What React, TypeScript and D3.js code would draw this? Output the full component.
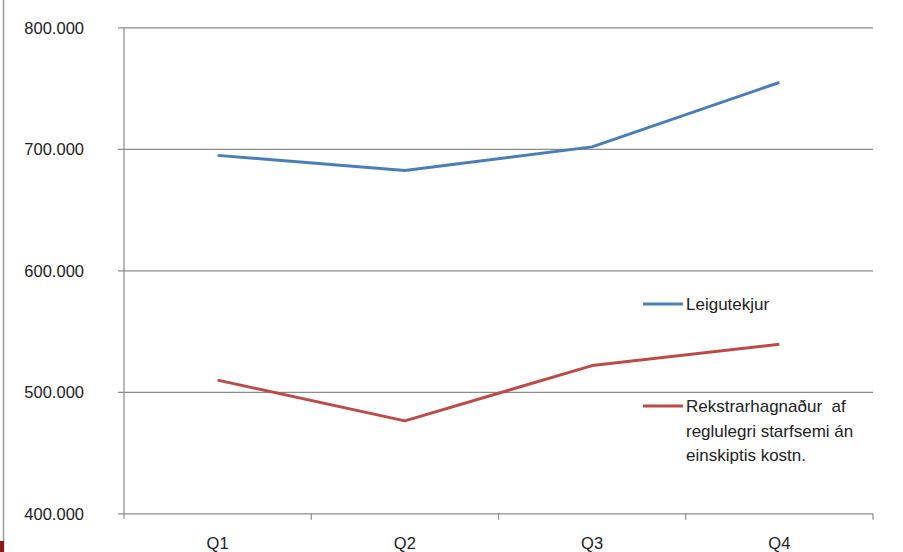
import React from "react";
import * as d3 from "d3";

const categories = ["Q1", "Q2", "Q3", "Q4"];
const leigutekjur = [695, 682.5, 702, 755];
const rekstrarhagnadur = [510, 476.5, 522, 539.5];
const yTicks = [400, 500, 600, 700, 800];
const seriesNames = ["Leigutekjur", "Rekstrarhagnaður  af|reglulegri starfsemi án|einskiptis kostn."];

const W = 903;
const H = 552;
const FONT = "'Liberation Sans', Arial, sans-serif";

export default function App() {
  const x = d3.scaleBand<string>().domain(categories).range([124, 873]);
  const y = d3.scaleLinear().domain([400, 800]).range([513.8, 27.8]);
  const line = d3
    .line<number>()
    .x((_, i) => (x(categories[i]) as number) + x.bandwidth() / 2)
    .y((d) => y(d));
  const tickLabel = (v: number) => `${v}.000`;
  const gridColor = "#8c8c8c";
  const series = [
    { name: seriesNames[0], values: leigutekjur, color: "#4a7ebb", ly: 304 },
    { name: seriesNames[1], values: rekstrarhagnadur, color: "#be4b48", ly: 406 },
  ];
  return (
    <svg
      width={W}
      height={H}
      style={{ position: "absolute", left: 0, top: 0, background: "#fff" }}
      fontFamily={FONT}
    >
      <rect x={0} y={0} width={W} height={H} fill="#fff" />
      <line x1={3.5} x2={3.5} y1={0} y2={H} stroke="#9a9a9a" strokeWidth={1.5} />
      <rect x={0} y={541} width={4} height={11} fill="#8b1a1a" />
      {yTicks.map((t) => (
        <g key={t}>
          <line x1={118} x2={873} y1={y(t)} y2={y(t)} stroke={gridColor} strokeWidth={1.2} />
          <text x={84} y={y(t) + 6} textAnchor="end" fontSize={16.5} fill="#222">
            {tickLabel(t)}
          </text>
        </g>
      ))}
      <line x1={124} x2={124} y1={y(800)} y2={y(400) + 5} stroke={gridColor} strokeWidth={1.2} />
      {categories.map((c) => (
        <g key={c}>
          <line
            x1={(x(c) as number) + x.bandwidth()}
            x2={(x(c) as number) + x.bandwidth()}
            y1={y(400)}
            y2={y(400) + 6}
            stroke={gridColor}
            strokeWidth={1.2}
          />
          <text
            x={(x(c) as number) + x.bandwidth() / 2}
            y={549}
            textAnchor="middle"
            fontSize={16.5}
            fill="#222"
          >
            {c}
          </text>
        </g>
      ))}
      {series.map((s) => (
        <path
          key={s.name}
          d={line(s.values) as string}
          fill="none"
          stroke={s.color}
          strokeWidth={3}
          strokeLinejoin="round"
        />
      ))}
      {series.map((s) => (
        <g key={"l" + s.name}>
          <line x1={643} x2={683} y1={s.ly} y2={s.ly} stroke={s.color} strokeWidth={3} />
          {s.name.split("|").map((ln, j) => (
            <text
              key={j}
              x={686}
              y={s.ly + 6 + j * 24.5}
              fontSize={17}
              fill="#222"
              style={{ whiteSpace: "pre" }}
            >
              {ln}
            </text>
          ))}
        </g>
      ))}
    </svg>
  );
}
